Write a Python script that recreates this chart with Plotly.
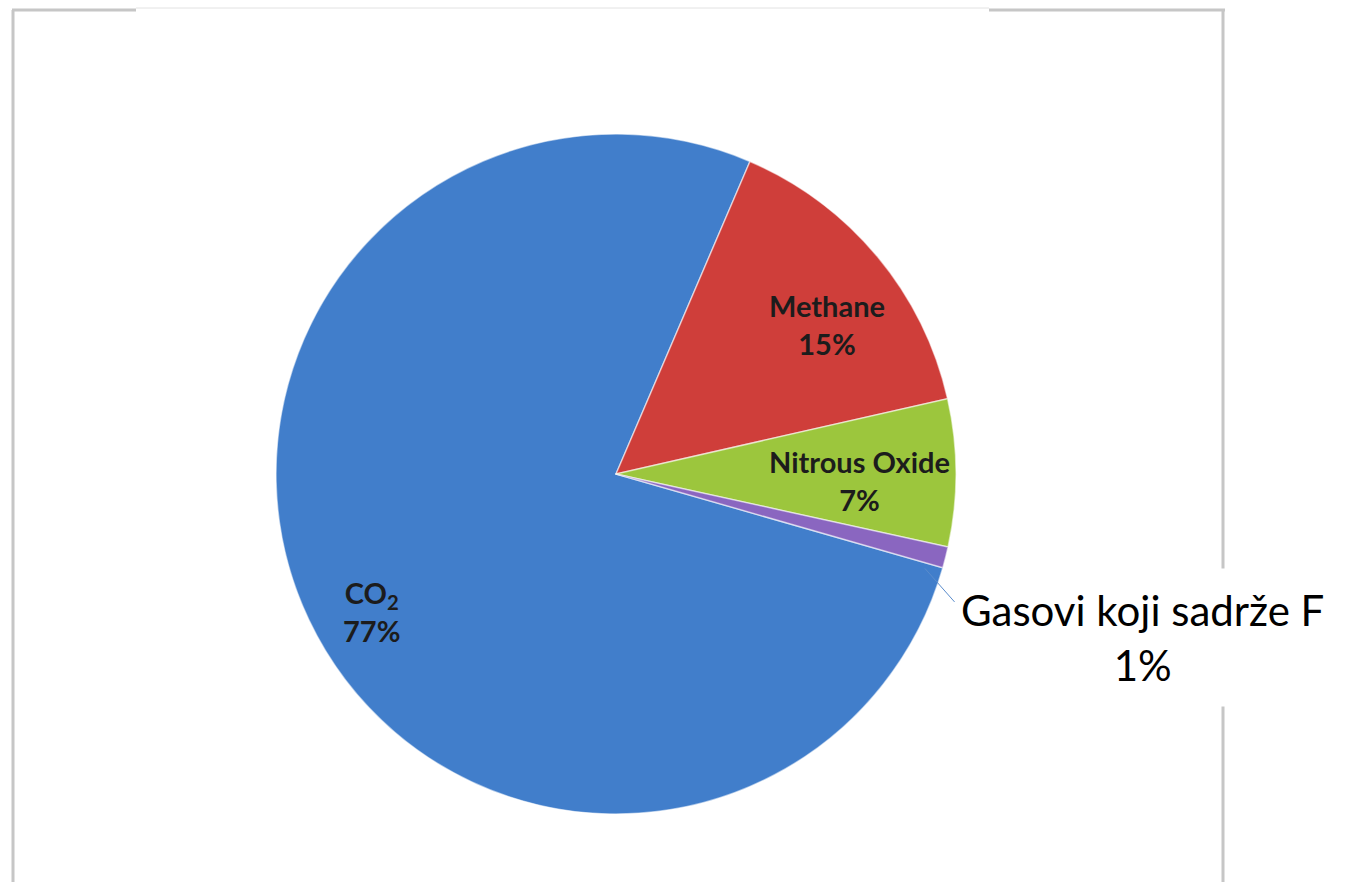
import math
import plotly.graph_objects as go

# ---- data ----
gases = ["CO<sub>2</sub>", "Methane", "Nitrous Oxide", "Gasovi koji sadrže F"]
shares = [77, 15, 7, 1]
colors = ["#417ecb", "#cf3e3a", "#9cc63d", "#8a66c0"]

W, H = 1345, 882
CX, CY, R = 616, 474, 340          # pie centre / radius in pixels
ROTATION = 106                      # start angle of first slice (deg, clockwise from 12 o'clock)

fig = go.Figure()
fig.add_trace(go.Pie(
    labels=gases,
    values=shares,
    sort=False,
    direction="clockwise",
    rotation=ROTATION,
    marker=dict(colors=colors, line=dict(color="rgba(255,255,255,0.55)", width=1.5)),
    textinfo="none",
    hoverinfo="label+percent",
    showlegend=False,
    domain=dict(x=[(CX - R) / W, (CX + R) / W], y=[1 - (CY + R) / H, 1 - (CY - R) / H]),
))

# slice angles computed from the data
total = sum(shares)
starts, ends = [], []
a = ROTATION
for v in shares:
    starts.append(a)
    a += 360 * v / total
    ends.append(a)


def to_paper(angle_deg, frac):
    t = math.radians(angle_deg)
    px = CX + frac * R * math.sin(t)
    py = CY - frac * R * math.cos(t)
    return px / W, 1 - py / H


# inside labels (style: radial fraction, angle tweak, x shift, y shift)
label_style = {0: (0.83, -4, 1, 1), 1: (0.74, 2, 12, -5), 2: (0.72, 0, -1, -7)}
for i, (frac, dang, xsh, ysh) in label_style.items():
    mid = (starts[i] + ends[i]) / 2 + dang
    x, y = to_paper(mid, frac)
    fig.add_annotation(
        x=x, y=y, xref="paper", yref="paper", xanchor="center", yanchor="middle",
        text=f"<b>{gases[i]}<br>{shares[i]}%</b>",
        showarrow=False, xshift=xsh, yshift=ysh,
        font=dict(family="Lato", size=29, color="#1c1c1c"),
    )

# chart frame
frame = "#c6c6c6"
fig.add_shape(type="line", xref="paper", yref="paper", x0=13 / W, x1=13 / W, y0=0, y1=1 - 10 / H,
              line=dict(color=frame, width=3))
fig.add_shape(type="line", xref="paper", yref="paper", x0=12 / W, x1=136 / W, y0=1 - 10 / H, y1=1 - 10 / H,
              line=dict(color=frame, width=3))
fig.add_shape(type="line", xref="paper", yref="paper", x0=136 / W, x1=989 / W, y0=1 - 8 / H, y1=1 - 8 / H,
              line=dict(color="#e2e2e2", width=1))
fig.add_shape(type="line", xref="paper", yref="paper", x0=989 / W, x1=1225 / W, y0=1 - 10 / H, y1=1 - 10 / H,
              line=dict(color=frame, width=3))
fig.add_shape(type="line", xref="paper", yref="paper", x0=1223 / W, x1=1223 / W, y0=0, y1=1 - 10 / H,
              line=dict(color=frame, width=3))

# outside label for the smallest slice, on a white box
i = 3
fig.add_annotation(
    x=1142 / W, y=1 - 637 / H, xref="paper", yref="paper", xanchor="center", yanchor="middle",
    text=f"{gases[i]}<br>{shares[i]}%",
    showarrow=False, align="center",
    bgcolor="white", borderpad=16,
    font=dict(family="Lato", size=42, color="#000000"),
)

# leader line from the slice to its label (drawn above the label box)
x0, y0 = to_paper(ends[i] + 1.0, 0.95)
fig.add_annotation(
    x=x0, y=y0, xref="paper", yref="paper",
    ax=31, ay=35, axref="pixel", ayref="pixel",
    text="", showarrow=True, arrowhead=0, arrowwidth=1, arrowcolor="#5a8ccc",
    standoff=0, startstandoff=0, font=dict(size=1),
)

fig.update_layout(
    width=W, height=H,
    margin=dict(l=0, r=0, t=0, b=0),
    paper_bgcolor="white",
    plot_bgcolor="white",
)

fig.write_html("out.html")
